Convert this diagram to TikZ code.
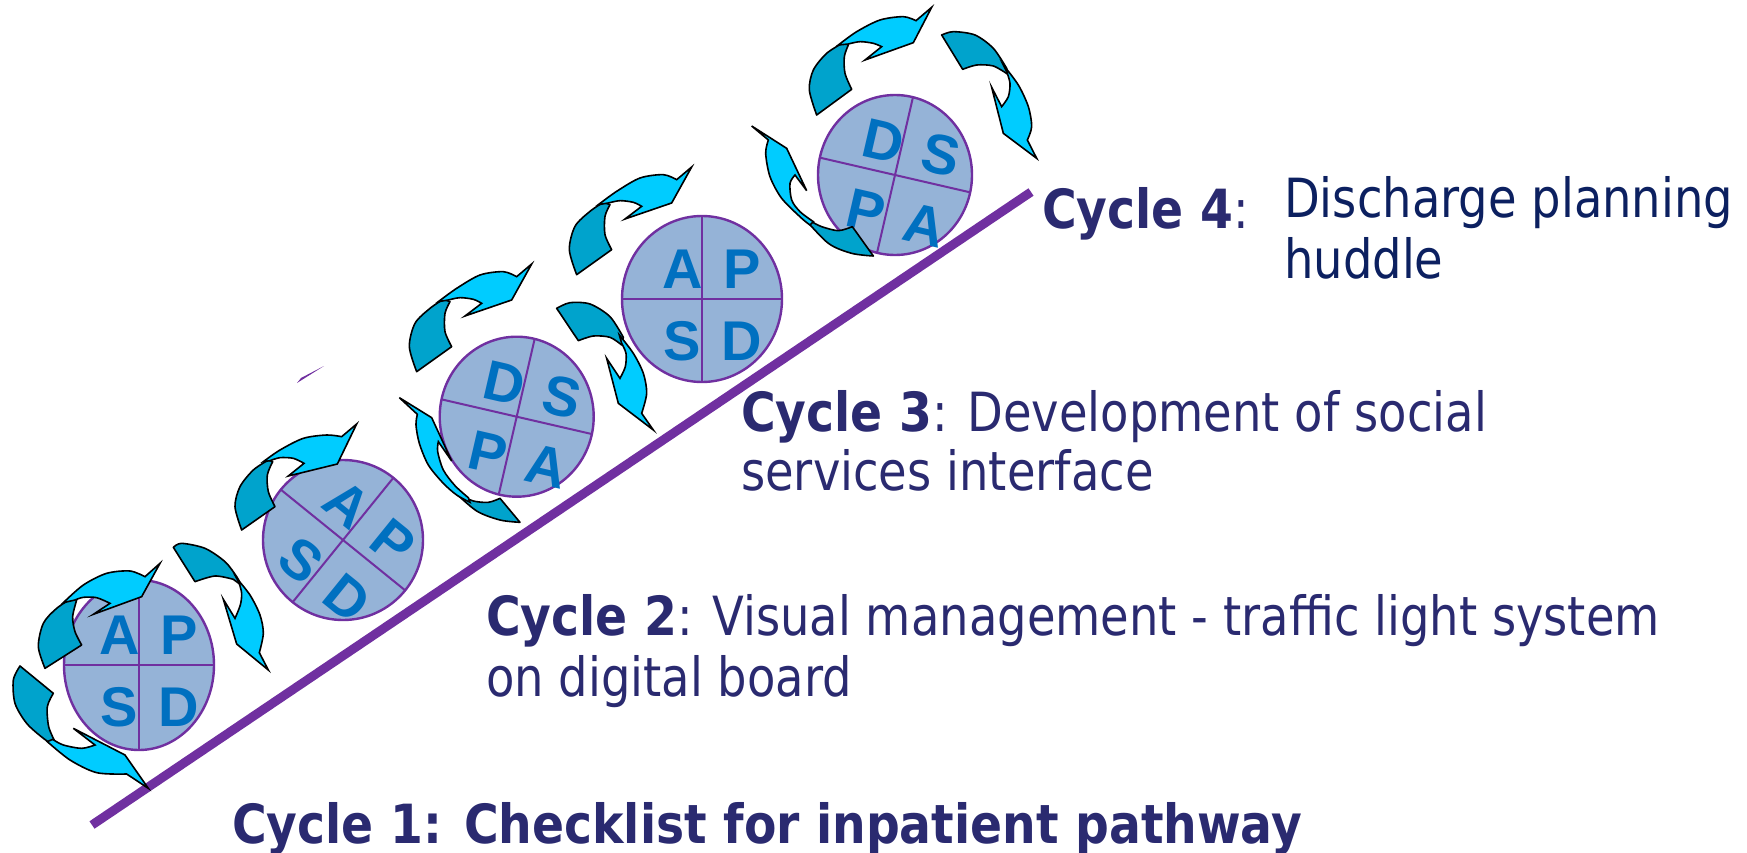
\documentclass[tikz,border=0pt]{standalone}
\usepackage{fontspec}
\newfontfamily\tfont{DejaVu Sans}[FakeStretch=0.86, BoldFeatures={FakeStretch=0.875}]
\newfontfamily\lfont{Liberation Sans}
\definecolor{cfill}{RGB}{149,179,215}
\definecolor{purp}{RGB}{112,48,160}
\definecolor{letblue}{RGB}{0,112,192}
\definecolor{arrlight}{RGB}{0,204,255}
\definecolor{arrdark}{RGB}{0,163,204}
\definecolor{navyt}{RGB}{42,42,112}
\definecolor{navyd}{RGB}{12,32,96}
\tikzset{
  darkarr/.style={fill=arrdark, draw=black, line width=1.6pt, line join=round},
  lightarr/.style={fill=arrlight, draw=black, line width=1.6pt, line join=miter},
  letter/.style={font=\lfont\bfseries\fontsize{56}{56}\selectfont, text=letblue, inner sep=0pt},
  txt/.style={font=\tfont\fontsize{54}{60}\selectfont, text=navyt, inner sep=0pt, anchor=base west}
}
\newcommand\pdcycle[9]{%
  \begin{scope}[shift={(#1,#2)}]
    \path[fill=cfill] (0,0) ellipse [x radius=#3, y radius=#4];
    \begin{scope}
      \clip (0,0) ellipse [x radius=#3, y radius=#4];
      \begin{scope}[rotate=#5]
        \draw[purp, line width=2pt] (-110,0) -- (110,0) (0,-110) -- (0,110);
      \end{scope}
    \end{scope}
    \draw[purp, line width=2.4pt] (0,0) ellipse [x radius=#3, y radius=#4];
    \begin{scope}[rotate=#5]
      \node[letter, rotate=#5] at (-19,-30) {#6};
      \node[letter, rotate=#5] at (40,-30) {#7};
      \node[letter, rotate=#5] at (-20,42) {#8};
      \node[letter, rotate=#5] at (40,42) {#9};
    \end{scope}
  \end{scope}}
\begin{document}
\begin{tikzpicture}[x=1pt,y=-1pt]
\useasboundingbox (0,0) rectangle (1747,853);

% main line
\coordinate (l1) at (92,825);
\coordinate (l2) at (1031,192);
\draw[purp, line width=9pt] (l1) -- (l2);
\coordinate (f1) at (297,383);
\coordinate (f2) at (301,378);
\coordinate (f3) at (324,366);
\fill[purp] (f1) -- (f2) -- (f3) -- cycle;

% circles
\pdcycle{139}{665}{75}{85}{0}{A}{P}{S}{D}
\pdcycle{343}{540}{80}{80}{-39}{A}{P}{S}{D}
\pdcycle{516.7}{416.7}{77}{80}{-13}{D}{S}{P}{A}
\pdcycle{702}{299}{80}{83}{0}{A}{P}{S}{D}
\pdcycle{895}{175}{77}{80}{-13}{D}{S}{P}{A}

% A1
\begin{scope}[shift={(30,560)}, scale=0.33333]
 \filldraw[darkarr] plot[smooth] coordinates {(45,325) (25,260) (40,190) (80,145) (130,112)} -- plot[smooth] coordinates {(140,120) (128,170) (135,215) (155,255)} -- cycle;
 \filldraw[lightarr] plot[smooth] coordinates {(100,128) (160,75) (230,40) (300,33) (345,50)} -- (390,10) -- (335,110) -- (190,163) -- (240,130) -- plot[smooth] coordinates {(240,130) (200,113) (160,112) (135,120)} -- cycle;
\end{scope}
% A2
\begin{scope}[shift={(165,540)}, scale=0.33333]
 \filldraw[darkarr] plot[smooth] coordinates {(25,22) (50,10) (120,25) (180,65) (215,110) (228,135)} -- plot[smooth] coordinates {(205,118) (150,108) (90,125)} -- cycle;
 \filldraw[lightarr] plot[smooth] coordinates {(215,115) (255,165) (285,225) (295,280) (283,338)} -- (310,390) -- (215,312) -- (175,178) -- (210,235) -- plot[smooth] coordinates {(210,235) (226,195) (230,160) (222,128)} -- cycle;
\end{scope}
% A3
\begin{scope}[shift={(10,660)}, scale=0.33333]
 \filldraw[darkarr] plot[smooth] coordinates {(30,18) (10,60) (15,130) (50,190) (100,235) (132,256)} -- plot[smooth] coordinates {(135,245) (116,200) (112,140) (130,100)} -- cycle;
 \filldraw[lightarr] plot[smooth] coordinates {(112,245) (180,300) (260,338) (350,342)} -- (415,385) -- (345,285) -- (190,205) -- (255,255) -- plot[smooth] coordinates {(255,255) (215,265) (160,255) (128,238)} -- cycle;
\end{scope}
% A4
\begin{scope}[shift={(230,420)}, scale=0.33333]
 \filldraw[darkarr] plot[smooth] coordinates {(35,330) (15,260) (30,200) (70,150) (115,120)} -- plot[smooth] coordinates {(128,125) (112,165) (115,215) (135,260)} -- cycle;
 \filldraw[lightarr] plot[smooth] coordinates {(100,125) (150,90) (220,55) (290,45) (335,50)} -- (380,12) -- (322,132) -- (175,168) -- (222,130) -- plot[smooth] coordinates {(222,130) (190,115) (150,113) (120,122)} -- cycle;
\end{scope}
% A5
\begin{scope}[shift={(390,385)}, scale=0.33333]
 \filldraw[darkarr] plot[smooth] coordinates {(190,318) (260,378) (330,405) (390,412)} -- (330,340) -- plot[smooth] coordinates {(330,340) (295,352) (250,348) (210,330)} -- cycle;
 \filldraw[lightarr] plot[smooth] coordinates {(235,338) (195,302) (160,255) (143,200) (145,170)} -- (185,228) -- (125,98) -- (28,38) -- (82,88) -- plot[smooth] coordinates {(82,88) (78,120) (88,175) (115,240) (160,295) (200,330) (240,352)} -- cycle;
\end{scope}
% A6
\begin{scope}[shift={(380,250)}, scale=0.33333]
 \filldraw[darkarr] plot[smooth] coordinates {(110,365) (88,290) (105,220) (150,175) (190,148)} -- plot[smooth] coordinates {(210,155) (195,190) (195,245) (215,290)} -- cycle;
 \filldraw[lightarr] plot[smooth] coordinates {(175,155) (230,115) (300,75) (370,65) (410,80)} -- (455,42) -- (395,150) -- (255,198) -- (305,160) -- plot[smooth] coordinates {(305,160) (280,148) (240,143) (205,150)} -- cycle;
\end{scope}
% A7
\begin{scope}[shift={(380,250)}, scale=0.33333]
 \filldraw[darkarr] plot[smooth] coordinates {(530,175) (570,158) (630,162) (690,200) (730,262)} -- plot[smooth] coordinates {(725,285) (690,262) (640,258) (595,272)} -- cycle;
 \filldraw[lightarr] plot[smooth] coordinates {(718,255) (760,310) (790,370) (800,430) (785,490)} -- (820,540) -- (715,460) -- (680,325) -- (720,385) -- plot[smooth] coordinates {(720,385) (736,350) (738,310) (725,280)} -- cycle;
\end{scope}
% A8
\begin{scope}[shift={(540,153)}, scale=0.33333]
 \filldraw[darkarr] plot[smooth] coordinates {(110,365) (88,290) (105,220) (150,175) (190,148)} -- plot[smooth] coordinates {(210,155) (195,190) (195,245) (215,290)} -- cycle;
 \filldraw[lightarr] plot[smooth] coordinates {(175,155) (230,115) (300,75) (370,65) (410,80)} -- (455,42) -- (395,150) -- (255,198) -- (305,160) -- plot[smooth] coordinates {(305,160) (280,148) (240,143) (205,150)} -- cycle;
\end{scope}
% A9
\begin{scope}[shift={(745,120)}, scale=0.33333]
 \filldraw[darkarr] plot[smooth] coordinates {(175,292) (250,370) (320,400) (385,408)} -- (322,320) -- plot[smooth] coordinates {(322,320) (280,332) (230,320) (200,305)} -- cycle;
 \filldraw[lightarr] plot[smooth] coordinates {(205,305) (165,275) (140,240) (135,190) (150,165)} -- (185,212) -- (125,85) -- (20,18) -- (70,60) -- plot[smooth] coordinates {(70,60) (62,100) (75,170) (110,235) (170,295) (195,315)} -- cycle;
\end{scope}
% A10
\begin{scope}[shift={(780,0)}, scale=0.33333]
 \filldraw[darkarr] plot[smooth] coordinates {(110,345) (88,270) (100,210) (140,160) (190,128)} -- plot[smooth] coordinates {(205,135) (193,170) (195,220) (215,268)} -- cycle;
 \filldraw[lightarr] plot[smooth] coordinates {(175,135) (230,95) (300,60) (370,50) (408,62)} -- (455,22) -- (400,128) -- (255,180) -- (305,140) -- plot[smooth] coordinates {(305,140) (280,130) (240,125) (205,132)} -- cycle;
\end{scope}
% A11
\begin{scope}[shift={(780,0)}, scale=0.33333]
 \filldraw[darkarr] plot[smooth] coordinates {(485,105) (520,95) (585,105) (640,145) (680,205)} -- plot[smooth] coordinates {(682,222) (640,198) (590,195) (548,208)} -- cycle;
 \filldraw[lightarr] plot[smooth] coordinates {(670,195) (715,255) (745,320) (755,380) (742,420)} -- (770,475) -- (670,400) -- (635,262) -- (665,320) -- plot[smooth] coordinates {(665,320) (685,290) (690,250) (680,215)} -- cycle;
\end{scope}

% texts
\node[txt] (t1) at (232,843) {\bfseries Cycle 1: Checklist for inpatient pathway};
\node[txt] (t2a) at (486,635) {{\bfseries Cycle 2}: Visual management - traffic light system};
\node[txt] (t2b) at (486,696) {on digital board};
\node[txt] (t3a) at (741,431) {{\bfseries Cycle 3}: Development of social};
\node[txt] (t3b) at (741,490) {services interface};
\node[txt] (t4a) at (1042,228) {{\bfseries Cycle 4}:};
\node[txt, text=navyd] (t4b) at (1284,217) {Discharge planning};
\node[txt, text=navyd] (t4c) at (1284,278) {huddle};
\end{tikzpicture}
\end{document}
